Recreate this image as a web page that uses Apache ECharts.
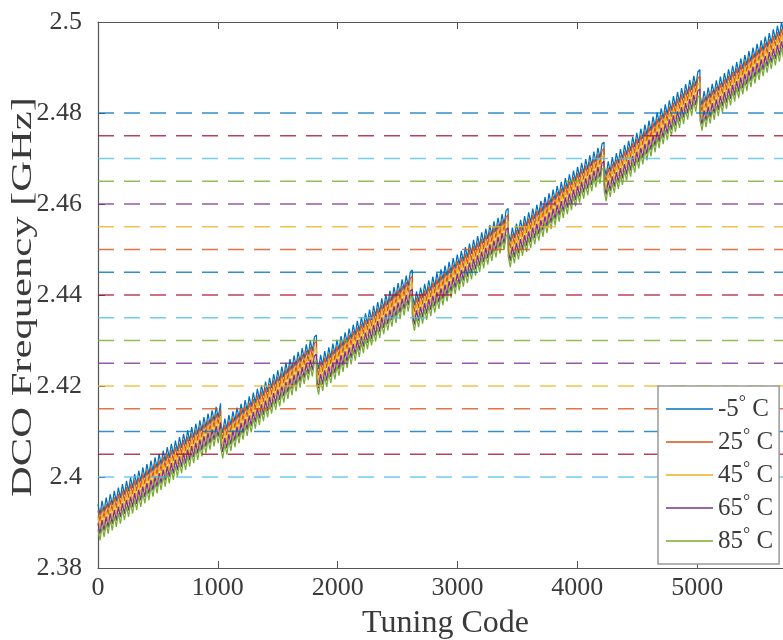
<!DOCTYPE html>
<html>
<head>
<meta charset="utf-8">
<script src="https://cdn.jsdelivr.net/npm/echarts@6/dist/echarts.min.js"></script>
<style>html,body{margin:0;padding:0;background:#fff}#c{width:783px;height:640px}</style>
</head>
<body>
<div id="c"></div>
<script>
// ---- data ----
const seriesNames = ['-5°C', '25°C', '45°C', '65°C', '85°C'];
const seriesColors = ['#0072BD', '#D95319', '#EDB120', '#7E2F8E', '#77AC30'];
// coarse-band boundaries (tuning codes where the curves jump back)
const codeBounds = [0, 1024, 1824, 2624, 3424, 4224, 5024, 5800];
// peak frequency (GHz) at the start / end of each coarse band, per temperature
const tM5Start  = [2.3940, 2.4120, 2.4260, 2.4400, 2.4540, 2.4685, 2.4840];
const tM5End    = [2.4162, 2.4312, 2.4455, 2.4590, 2.4736, 2.4895, 2.5022];
const t25Start  = [2.3926, 2.4106, 2.4246, 2.4386, 2.4526, 2.4671, 2.4826];
const t25End    = [2.4148, 2.4298, 2.4441, 2.4576, 2.4722, 2.4881, 2.5008];
const t45Start  = [2.3912, 2.4092, 2.4232, 2.4372, 2.4512, 2.4657, 2.4812];
const t45End    = [2.4134, 2.4284, 2.4427, 2.4562, 2.4708, 2.4867, 2.4994];
const t65Start  = [2.3898, 2.4078, 2.4218, 2.4358, 2.4498, 2.4643, 2.4798];
const t65End    = [2.4120, 2.4270, 2.4413, 2.4548, 2.4694, 2.4853, 2.4980];
const t85Start  = [2.3884, 2.4064, 2.4204, 2.4344, 2.4484, 2.4629, 2.4784];
const t85End    = [2.4106, 2.4256, 2.4399, 2.4534, 2.4680, 2.4839, 2.4966];
// fine-code ripple: half-period in codes and peak-to-trough depth in GHz
const rippleHalf = 17;
const rippleDepth = 0.0027;
// channel reference levels (dashed lines) and their colours
const hLevels = [2.400, 2.405, 2.410, 2.415, 2.420, 2.425, 2.430, 2.435, 2.440,
                 2.445, 2.450, 2.455, 2.460, 2.465, 2.470, 2.475, 2.480];
const hColors = ['#4DBEEE', '#A2142F', '#0072BD', '#D95319', '#EDB120', '#7E2F8E', '#77AC30',
                 '#4DBEEE', '#A2142F', '#0072BD', '#D95319', '#EDB120', '#7E2F8E', '#77AC30',
                 '#4DBEEE', '#A2142F', '#0072BD'];
const xTicks = [0, 1000, 2000, 3000, 4000, 5000];
const yTicks = [2.38, 2.40, 2.42, 2.44, 2.46, 2.48, 2.50];

const X_MAX = 5800;

function buildCurve(starts, ends) {
  const pts = [];
  for (let s = 0; s < starts.length; s++) {
    const x0 = codeBounds[s], x1 = codeBounds[s + 1] - 1;
    let k = 0;
    for (let x = x0; x < x1 - 3; x += rippleHalf, k++) {
      const v = starts[s] + (ends[s] - starts[s]) * (x - x0) / (x1 - x0) - (k % 2 ? rippleDepth : 0);
      pts.push([x, v]);
    }
    pts.push([x1, ends[s]]);
  }
  return pts;
}

const curveData = [
  buildCurve(tM5Start, tM5End),
  buildCurve(t25Start, t25End),
  buildCurve(t45Start, t45End),
  buildCurve(t65Start, t65End),
  buildCurve(t85Start, t85End)
];

const serif = 'Liberation Serif';
const axisColor = '#555555';
const textColor = '#3a3a3a';

const series = [];
seriesNames.forEach((n, i) => {
  series.push({
    name: n, type: 'line', data: curveData[i], symbol: 'none', showSymbol: false,
    lineStyle: { color: seriesColors[i], width: 1.25 }, itemStyle: { color: seriesColors[i] },
    animation: false, silent: true, clip: true, z: 2
  });
});
hLevels.forEach((v, i) => {
  series.push({
    name: 'lvl' + i, type: 'line', data: [[0, v], [X_MAX, v]], symbol: 'none',
    lineStyle: { color: hColors[i], width: 1.5, type: [16, 10], opacity: 0.8 },
    animation: false, silent: true, z: 3
  });
});

const chart = echarts.init(document.getElementById('c'), null, { renderer: 'canvas' });
chart.setOption({
  animation: false,
  backgroundColor: '#ffffff',
  grid: { left: 98, top: 22, width: 695, height: 546, containLabel: false, outerBoundsMode: 'none' },
  xAxis: [{
    type: 'value', min: 0, max: X_MAX, interval: 1000, position: 'bottom',
    axisLine: { show: true, lineStyle: { color: axisColor, width: 1.2 } },
    axisTick: { show: true, inside: true, length: 7, lineStyle: { color: axisColor } },
    splitLine: { show: false },
    axisLabel: {
      fontFamily: serif, fontSize: 26, color: textColor, margin: 7,
      formatter: v => (xTicks.indexOf(v) >= 0 ? String(v) : '')
    },
    name: 'Tuning Code', nameLocation: 'middle', nameGap: 40,
    nameTextStyle: { fontFamily: serif, fontSize: 32, color: textColor }
  }, {
    type: 'value', min: 0, max: X_MAX, interval: 1000, position: 'top',
    axisLine: { show: true, lineStyle: { color: axisColor, width: 1.2 } },
    axisTick: { show: true, inside: true, length: 7, lineStyle: { color: axisColor } },
    axisLabel: { show: false }, splitLine: { show: false }
  }],
  yAxis: [{
    type: 'value', min: 2.38, max: 2.5, interval: 0.02,
    axisLine: { show: true, lineStyle: { color: axisColor, width: 1.2 } },
    axisTick: { show: true, inside: true, length: 7, lineStyle: { color: axisColor } },
    splitLine: { show: false },
    axisLabel: {
      fontFamily: serif, fontSize: 26, color: textColor, margin: 16,
      formatter: v => {
        const t = yTicks.find(y => Math.abs(y - v) < 1e-6);
        return t === undefined ? '' : String(parseFloat(t.toFixed(3)));
      }
    }
  }],
  graphic: [{
    type: 'text', x: 23, y: 297, rotation: Math.PI / 2, scaleX: 1.42, scaleY: 1,
    style: {
      text: 'DCO Frequency [GHz]', font: '30px "Liberation Serif"', fill: textColor,
      align: 'center', verticalAlign: 'middle'
    }
  }],
  legend: {
    data: seriesNames, orient: 'vertical', left: 658, top: 386,
    backgroundColor: '#ffffff', borderColor: '#9a9a9a', borderWidth: 1.5, borderRadius: 0,
    padding: [8, 6, 8, 8], itemWidth: 47, itemHeight: 1.5, itemGap: 3, icon: 'rect',
    selectedMode: false,
    formatter: name => {
      const num = name.replace('°C', '');
      return '{n|' + num + '}{d|°}{n| C}';
    },
    textStyle: {
      fontFamily: serif, fontSize: 25, color: textColor, lineHeight: 28,
      rich: {
        n: { fontFamily: serif, fontSize: 25, color: textColor, lineHeight: 28 },
        d: { fontFamily: serif, fontSize: 18, color: textColor, lineHeight: 18, padding: [0, 0, 12, 0] }
      }
    }
  },
  series: series
});
</script>
</body>
</html>
